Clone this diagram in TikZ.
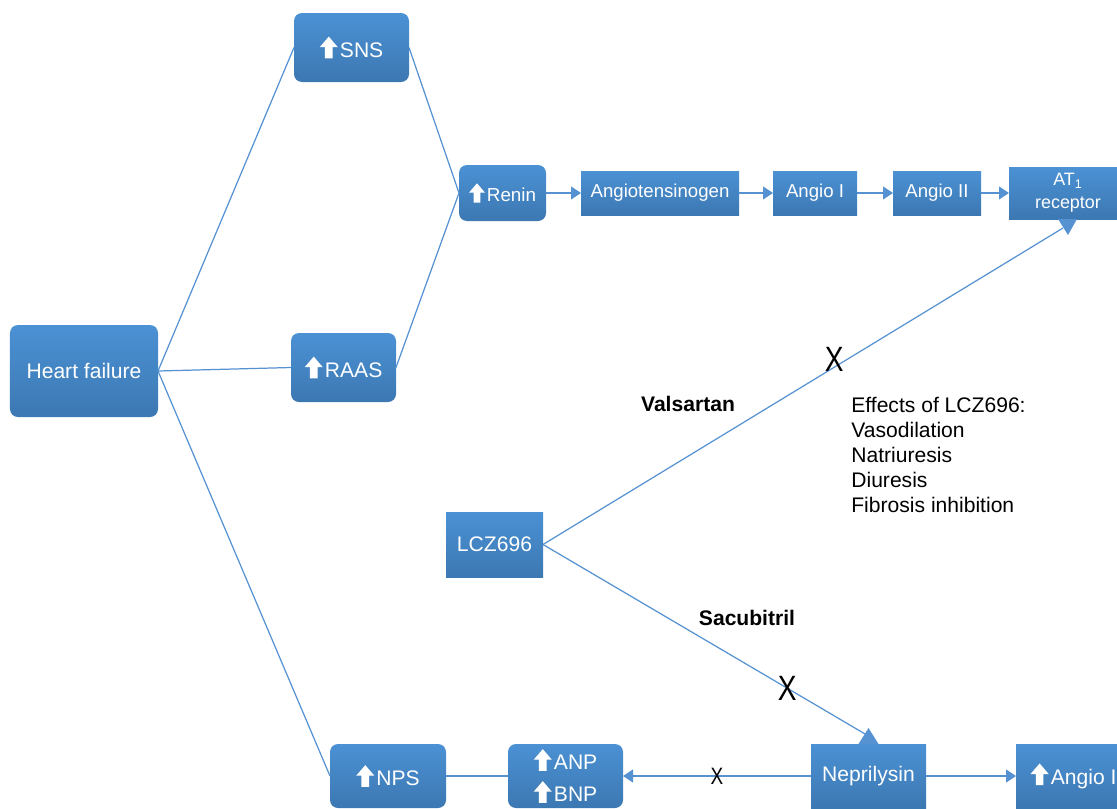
\documentclass[tikz,border=0pt]{standalone}
\usepackage{fontspec}
\setmainfont{Liberation Sans}
\definecolor{boxtop}{RGB}{75,145,212}
\definecolor{boxbottom}{RGB}{60,120,178}
\definecolor{linkblue}{RGB}{86,146,210}
\usetikzlibrary{arrows.meta, positioning}
\newcommand{\upmark}{\tikz[baseline=0pt, x=1em, y=1em, sharp corners]\fill[white] (-0.18,-0.05) -- (0.18,-0.05) -- (0.18,0.48) -- (0.43,0.48) -- (0,0.98) -- (-0.43,0.48) -- (-0.18,0.48) -- cycle;\hspace{0.1em}}
\tikzset{
box/.style={top color=boxtop, bottom color=boxbottom, text=white, align=center, inner sep=0pt, outer sep=0pt, font=\fontsize{12}{14}\selectfont}, % blue box, square corners
rbox/.style={box, rounded corners=0.16cm}, % blue box, rounded corners
chainbox/.style={box, font=\fontsize{10.6}{13}\selectfont, minimum height=0.88cm}, % small boxes of the angiotensin chain
link/.style={color=linkblue, line width=0.7pt}, % plain connector
arr/.style={link, -{Triangle[length=0.2cm, width=0.26cm]}}, % connector with arrow head
xmark/.style={text=black, inner sep=0pt, font=\fontsize{20}{20}\selectfont}, % blocking cross
drug/.style={inner sep=0pt, font=\bfseries\fontsize{12}{14}\selectfont}, % drug name
}

\begin{document}
\begin{tikzpicture}
      \useasboundingbox (0,0) rectangle (22.34,-16.16);
      \clip (0,0) rectangle (22.34,-16.16);

      \node[rbox, minimum width=2.96cm, minimum height=1.84cm] (hf) at (1.68,-7.42) {Heart failure};
      \node[rbox, minimum width=2.30cm, minimum height=1.38cm] (sns) at (7.03,-0.95) {\upmark SNS};
      \node[rbox, minimum width=2.10cm, minimum height=1.38cm] (raas) at (6.87,-7.35) {\upmark RAAS};
      \node[rbox, font=\fontsize{10.7}{13}\selectfont, minimum width=1.74cm, minimum height=1.12cm] (renin) at (10.05,-3.86) {\upmark Renin};
      \node[chainbox, right=0.7cm of renin, minimum width=3.16cm] (agt) {Angiotensinogen};
      \node[chainbox, right=0.68cm of agt, minimum width=1.68cm] (ang1) {Angio I};
      \node[chainbox, right=0.72cm of ang1, minimum width=1.76cm] (ang2) {Angio II};
      \node[chainbox, right=0.56cm of ang2, minimum width=2.36cm, minimum height=1.04cm, font=\fontsize{10.2}{13}\selectfont] (at1) {AT\textsubscript{1}\\receptor};

      \node[box, minimum width=1.94cm, minimum height=1.30cm] (lcz) at (9.89,-10.89) {LCZ696};
      \node[rbox, minimum width=2.32cm, minimum height=1.28cm] (nps) at (7.76,-15.52) {\upmark NPS};
      \node[rbox, right=1.24cm of nps, minimum width=2.30cm, minimum height=1.28cm, font=\fontsize{12}{18.2}\selectfont] (natri) {\upmark ANP\\\upmark BNP};
      \node[box, minimum width=2.30cm, minimum height=1.28cm] (nep) at (17.37,-15.52) {Neprilysin};
      \node[box, right=1.8cm of nep, minimum width=2.30cm, minimum height=1.28cm] (angb) {\upmark Angio I};

      \node[drug] (vals) at (13.76,-8.08) {Valsartan};
      \node[drug] (sacu) at (14.94,-12.36) {Sacubitril};
      \node[anchor=north west, align=left, inner sep=0pt, font=\fontsize{12}{14.2}\selectfont] (effects) at (17.02,-7.94) {Effects of LCZ696:\\Vasodilation\\Natriuresis\\Diuresis\\Fibrosis inhibition};

      \coordinate (at1tip) at ([shift={(-0.1,-0.18)}]at1.south);
      \coordinate (neptip) at ([yshift=0.16cm]nep.north);

      \draw[link] (hf.east) edge (sns.west)
      (hf.east) edge (raas.west)
      (hf.east) edge (nps.west)
      (sns.east) edge (renin.west)
      (raas.east) edge (renin.west)
      (nps) edge (natri)
      (lcz.east) edge node[xmark, pos=0.56, yshift=0.16cm] {\scalebox{0.8}[1]{X}} (at1tip)
      (lcz.east) edge node[xmark, pos=0.75] {\scalebox{0.8}[1]{X}} (neptip);

      \draw[arr] (renin) edge (agt)
      (agt) edge (ang1)
      (ang1) edge (ang2)
      (ang2) edge (at1)
      (nep) edge node[xmark, font=\fontsize{13.5}{13.5}\selectfont] {\scalebox{0.8}[1]{X}} (natri)
      (nep) edge (angb);

      \fill[linkblue] ([xshift=-0.2cm]at1.south) -- ([xshift=0.18cm]at1.south) -- ([yshift=-0.32cm]at1.south) -- cycle;
      \fill[linkblue] ([xshift=-0.2cm]nep.north) -- ([xshift=0.2cm]nep.north) -- ([yshift=0.32cm]nep.north) -- cycle;
    \end{tikzpicture}
\end{document}
